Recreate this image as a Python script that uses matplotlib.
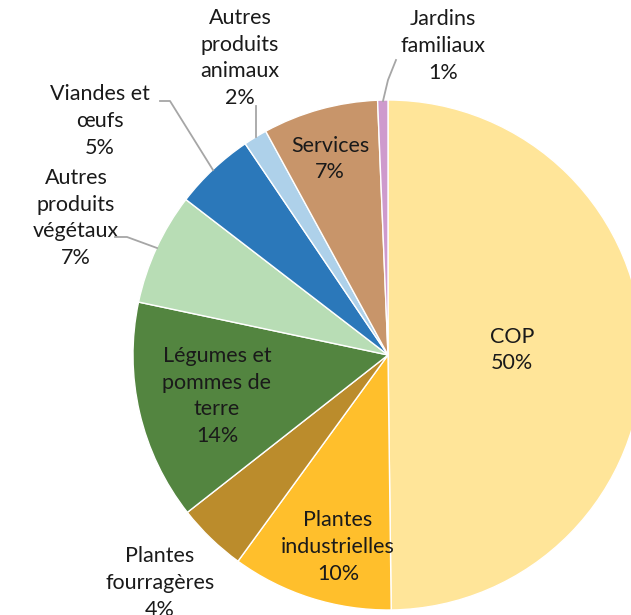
import matplotlib
matplotlib.use("Agg")
import matplotlib.pyplot as plt
import numpy as np

categories = ["COP", "Plantes industrielles", "Plantes fourragères",
              "Légumes et pommes de terre", "Autres produits végétaux",
              "Viandes et œufs", "Autres produits animaux", "Services",
              "Jardins familiaux"]
values = [49.75, 10.2, 4.4, 13.9, 7.1, 5.1, 1.5, 7.3, 0.65]
labels = ["COP\n50%", "Plantes\nindustrielles\n10%", "Plantes\nfourragères\n4%",
          "Légumes et\npommes de\nterre\n14%", "Autres\nproduits\nvégétaux\n7%",
          "Viandes et\nœufs\n5%", "Autres\nproduits\nanimaux\n2%", "Services\n7%",
          "Jardins\nfamiliaux\n1%"]
colors = ["#FFE599", "#FFBF2C", "#BB8C2C", "#538540", "#B8DDB5",
          "#2B78BA", "#AED1EA", "#C8956A", "#CE9ACD"]

W, H = 631, 615
fig = plt.figure(figsize=(W / 100, H / 100), dpi=100)
ax = fig.add_axes([0, 0, 1, 1])

cx, cy, R = 388, H - 355, 255
wedges, _ = ax.pie(values, colors=colors, startangle=90, counterclock=False,
                   center=(cx, cy), radius=R, frame=True,
                   wedgeprops=dict(edgecolor="white", linewidth=1.0))
ax.set_xlim(0, W)
ax.set_ylim(0, H)
ax.axis("off")

# label positions (pixel coords, y from top)
pos = [(512, 350), (338, 547), (160, 583), (217, 396), (76, 218),
       (100, 121), (240, 58), (330, 159), (443, 46)]
font = dict(family=["Lato", "DejaVu Sans"], fontsize=15.5, color="#1a1a1a",
            ha="center", va="center", linespacing=1.42)
for lab, (x, y) in zip(labels, pos):
    ax.text(x, H - y, lab, **font)

# leader lines (pixel coords, y from top): polyline points
leaders = {
    8: [(396, 60), (388, 80), (383, 101)],
    6: [(256, 106), (256, 137)],
    5: [(160, 101), (170, 101), (213, 170)],
    4: [(115, 237), (127, 237), (157, 248)],
}
for i, pts in leaders.items():
    xs = [p[0] for p in pts]
    ys = [H - p[1] for p in pts]
    ax.plot(xs, ys, color="#A6A6A6", lw=1.3, zorder=3)

fig.savefig("out.png", dpi=100)
